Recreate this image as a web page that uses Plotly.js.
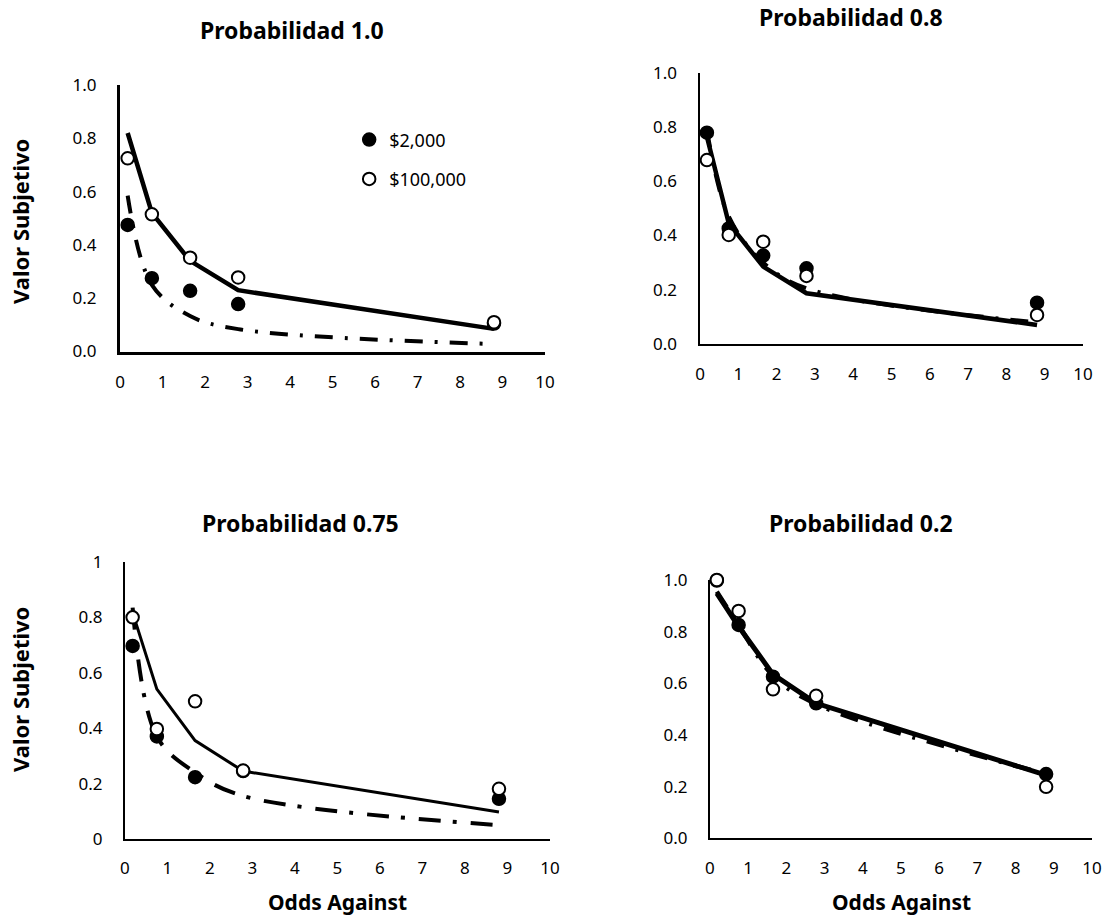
<!DOCTYPE html>
<html>
<head>
<meta charset="utf-8">
<script src="https://cdn.plot.ly/plotly-3.0.1.min.js"></script>
<style>html,body{margin:0;padding:0;background:#fff;}#chart{width:1105px;height:919px;}</style>
</head>
<body>
<div id="chart"></div>
<script>
// Shared x values (odds against)
const odds = [0.18, 0.75, 1.65, 2.78, 8.8];

const panelTitles = ["Probabilidad 1.0", "Probabilidad 0.8", "Probabilidad 0.75", "Probabilidad 0.2"];
const seriesNames = ["$2,000", "$100,000"];
const xTickVals = [0, 1, 2, 3, 4, 5, 6, 7, 8, 9, 10];
const yTickVals = [0, 0.2, 0.4, 0.6, 0.8, 1.0];

// Probabilidad 1.0
const p1_obs2000 = [0.475, 0.275, 0.228, 0.178, 0.105];
const p1_obs100000 = [0.725, 0.515, 0.352, 0.278, 0.11];
const p1_fit2000 = [0.585, 0.25, 0.133, 0.084, 0.028];
const p1_fit100000 = [0.82, 0.52, 0.34, 0.23, 0.085];

// Probabilidad 0.8
const p2_obs2000 = [0.779, 0.426, 0.326, 0.279, 0.152];
const p2_obs100000 = [0.678, 0.402, 0.377, 0.251, 0.107];
const p2_fit2000 = [0.79, 0.47, 0.30, 0.205, 0.08];
const p2_fit100000 = [0.764, 0.445, 0.285, 0.187, 0.070];

// Probabilidad 0.75
const p3_obs2000 = [0.697, 0.37, 0.223, 0.245, 0.145];
const p3_obs100000 = [0.80, 0.397, 0.497, 0.247, 0.181];
const p3_fit2000 = [0.835, 0.37, 0.24, 0.155, 0.05];
const p3_fit100000 = [0.817, 0.541, 0.355, 0.245, 0.097];

// Probabilidad 0.2
const p4_obs2000 = [0.998, 0.826, 0.626, 0.523, 0.249];
const p4_obs100000 = [1.0, 0.88, 0.577, 0.552, 0.2];
const p4_fit2000 = [0.955, 0.825, 0.63, 0.52, 0.25];
const p4_fit100000 = [0.948, 0.82, 0.635, 0.523, 0.245];

const FONT = "Noto Sans, Open Sans, sans-serif";

const panels = [
  {obs2000: p1_obs2000, obs100000: p1_obs100000, fit2000: p1_fit2000, fit100000: p1_fit100000,
   solidW: 4.5, dashW: 4, dash: "18px,12px,3px,12px", axW: 3, showLegend: true,
   xd: [0.1086, 0.4932], yd: [0.6175, 0.9075], fmt: ".1f"},
  {obs2000: p2_obs2000, obs100000: p2_obs100000, fit2000: p2_fit2000, fit100000: p2_fit100000,
   solidW: 4.5, dashW: 4, dash: "18px,12px,3px,12px", axW: 2.5, showLegend: false,
   xd: [0.6335, 0.9801], yd: [0.6257, 0.9209], fmt: ".1f"},
  {obs2000: p3_obs2000, obs100000: p3_obs100000, fit2000: p3_fit2000, fit100000: p3_fit100000,
   solidW: 3, dashW: 4, dash: "22px,12px,4px,14px", axW: 2, showLegend: false,
   xd: [0.1131, 0.4977], yd: [0.0871, 0.3885], fmt: ""},
  {obs2000: p4_obs2000, obs100000: p4_obs100000, fit2000: p4_fit2000, fit100000: p4_fit100000,
   solidW: 5, dashW: 4.5, dash: "18px,12px,3px,12px", axW: 2, showLegend: false,
   xd: [0.6425, 0.9882], yd: [0.0876, 0.3689], fmt: ".1f"}
];

const traces = [];
const layout = {
  width: 1105, height: 919,
  margin: {l: 0, r: 0, t: 0, b: 0},
  paper_bgcolor: "#fff", plot_bgcolor: "#fff",
  font: {family: FONT, color: "#000", size: 17},
  showlegend: true,
  legend: {x: 0.316, y: 0.868, xanchor: "left", yanchor: "top",
           bgcolor: "rgba(0,0,0,0)", font: {family: FONT, size: 18, color: "#000"},
           tracegroupgap: 13, itemwidth: 30},
  annotations: []
};

panels.forEach((p, i) => {
  const n = i + 1;
  const xa = "x" + (n === 1 ? "" : n);
  const ya = "y" + (n === 1 ? "" : n);
  traces.push({x: odds, y: p.fit100000, xaxis: xa, yaxis: ya, mode: "lines", type: "scatter",
    line: {color: "#000", width: p.solidW}, showlegend: false, hoverinfo: "skip"});
  traces.push({x: odds, y: p.fit2000, xaxis: xa, yaxis: ya, mode: "lines", type: "scatter",
    line: {color: "#000", width: p.dashW, dash: p.dash, shape: "spline", smoothing: 1},
    showlegend: false, hoverinfo: "skip"});
  traces.push({x: odds, y: p.obs2000, xaxis: xa, yaxis: ya, mode: "markers", type: "scatter",
    name: seriesNames[0], legendgroup: "g1", showlegend: p.showLegend, cliponaxis: false,
    marker: {color: "#000", size: 13, line: {color: "#000", width: 1.5}}});
  traces.push({x: odds, y: p.obs100000, xaxis: xa, yaxis: ya, mode: "markers", type: "scatter",
    name: seriesNames[1], legendgroup: "g2", showlegend: p.showLegend, cliponaxis: false,
    marker: {color: "#fff", size: 12.5, line: {color: "#000", width: 2}}});

  const xKey = "xaxis" + (n === 1 ? "" : n);
  const yKey = "yaxis" + (n === 1 ? "" : n);
  layout[xKey] = {
    domain: p.xd, anchor: ya, range: [0, 10], tickvals: xTickVals,
    showgrid: false, zeroline: false, showline: true, linecolor: "#000", linewidth: p.axW,
    ticks: "outside", ticklen: 13, tickcolor: "rgba(0,0,0,0)",
    tickfont: {family: FONT, size: 17, color: "#000"}, fixedrange: true
  };
  layout[yKey] = {
    domain: p.yd, anchor: xa, range: [0, 1], tickvals: yTickVals, tickformat: p.fmt,
    showgrid: false, zeroline: false, showline: true, linecolor: "#000", linewidth: p.axW,
    ticks: "outside", ticklen: 17, tickcolor: "rgba(0,0,0,0)",
    tickfont: {family: FONT, size: 17, color: "#000"}, fixedrange: true
  };
});

// Subplot titles
const titlePos = [[292, 30], [851, 17], [300, 523], [861, 523]];
panelTitles.forEach((t, i) => {
  layout.annotations.push({text: "<b>" + t + "</b>", xref: "paper", yref: "paper",
    x: titlePos[i][0] / 1105, y: 1 - titlePos[i][1] / 919, xanchor: "center", yanchor: "middle",
    showarrow: false, font: {family: FONT, size: 23, color: "#000"}});
});
// Axis titles
const xTitlePos = [[337, 902], [901, 902]];
xTitlePos.forEach(pos => {
  layout.annotations.push({text: "<b>Odds Against</b>", xref: "paper", yref: "paper",
    x: pos[0] / 1105, y: 1 - pos[1] / 919, xanchor: "center", yanchor: "middle",
    showarrow: false, font: {family: FONT, size: 21, color: "#000"}});
});
const yTitlePos = [[20, 222], [20, 690]];
yTitlePos.forEach(pos => {
  layout.annotations.push({text: "<b>Valor Subjetivo</b>", xref: "paper", yref: "paper",
    x: pos[0] / 1105, y: 1 - pos[1] / 919, xanchor: "center", yanchor: "middle", textangle: -90,
    showarrow: false, font: {family: FONT, size: 22, color: "#000"}});
});

Plotly.newPlot("chart", traces, layout, {displayModeBar: false, staticPlot: true});
</script>
</body>
</html>
